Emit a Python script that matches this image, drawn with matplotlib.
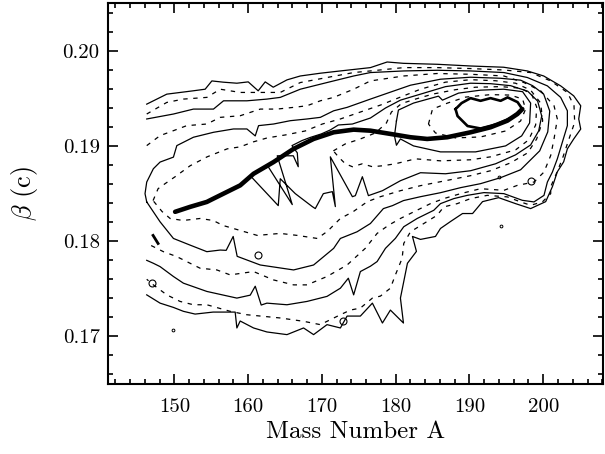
import numpy as np
import matplotlib
matplotlib.use("Agg")
import matplotlib.pyplot as plt
from matplotlib.ticker import MultipleLocator, FormatStrFormatter

plt.rcParams['font.family'] = 'serif'
plt.rcParams['font.serif'] = ['cmr10', 'DejaVu Serif']
plt.rcParams['mathtext.fontset'] = 'cm'
plt.rcParams['axes.formatter.use_mathtext'] = True

# contour lines (mass number A, velocity beta), outer -> inner
# c1..c4 stop at the left data edge, c5..c11 are closed
c1_A = [146.25, 148.97, 152.54, 154.17, 155.08, 156.61, 158.47, 160.01, 161.36, 162.31,
        163.40, 165.26, 167.07, 169.78, 172.50, 176.57, 178.84, 181.05, 185.62, 190.15,
        194.63, 197.84, 200.06, 202.36, 204.13, 205.08, 204.81, 205.08, 204.13, 203.27,
        202.77, 201.91, 201.24, 200.33, 198.29, 196.25, 193.95, 191.77, 190.42, 189.06,
        187.43, 186.07, 185.39, 183.36, 182.27, 182.81, 181.59, 180.64, 181.05, 179.28,
        178.20, 176.84, 175.21, 173.41, 172.50, 170.69, 168.87, 167.51, 165.26, 162.54,
        160.73, 158.92, 158.47, 158.24, 155.25, 152.81, 151.22, 149.87, 148.06, 146.25]
c1_b = [0.19442, 0.19547, 0.19582, 0.19599, 0.19686, 0.19673, 0.19662, 0.19676, 0.19582, 0.19676,
        0.19620, 0.19697, 0.19738, 0.19767, 0.19791, 0.19826, 0.19885, 0.19871, 0.19861, 0.19843,
        0.19830, 0.19791, 0.19738, 0.19634, 0.19529, 0.19425, 0.19286, 0.19180, 0.19076, 0.18972,
        0.18836, 0.18731, 0.18574, 0.18417, 0.18344, 0.18396, 0.18459, 0.18417, 0.18292, 0.18292,
        0.18208, 0.18135, 0.18051, 0.18020, 0.18051, 0.17894, 0.17769, 0.17403, 0.17141, 0.17277,
        0.17141, 0.17350, 0.17214, 0.17214, 0.17089, 0.17124, 0.17019, 0.17089, 0.17019, 0.17047,
        0.17089, 0.17162, 0.17089, 0.17256, 0.17256, 0.17235, 0.17264, 0.17305, 0.17350, 0.17437]

c2_A = [146.25, 148.97, 151.22, 154.40, 156.21, 158.92, 161.64, 164.35, 167.07, 170.69,
        174.30, 176.57, 181.09, 185.62, 190.15, 194.67, 198.29, 201.01, 203.27, 204.17,
        204.26, 203.49, 202.59, 201.68, 201.01, 201.01, 199.88, 198.29, 196.93, 195.13,
        192.41, 190.15, 188.34, 186.52, 185.62, 183.81, 182.00, 181.09, 180.87, 179.96,
        179.28, 177.93, 176.84, 175.21, 173.85, 172.50, 169.78, 167.51, 164.35, 159.83,
        157.56, 154.40, 152.58, 150.77, 148.97, 147.15, 146.25]
c2_b = [0.19338, 0.19460, 0.19495, 0.19513, 0.19599, 0.19565, 0.19565, 0.19565, 0.19669, 0.19722,
        0.19774, 0.19791, 0.19826, 0.19826, 0.19816, 0.19801, 0.19774, 0.19686, 0.19565, 0.19425,
        0.19251, 0.19076, 0.18867, 0.18693, 0.18574, 0.18501, 0.18414, 0.18379, 0.18414, 0.18467,
        0.18483, 0.18449, 0.18396, 0.18362, 0.18274, 0.18187, 0.18100, 0.17978, 0.17821, 0.17647,
        0.17507, 0.17424, 0.17403, 0.17298, 0.17277, 0.17228, 0.17124, 0.17159, 0.17194, 0.17228,
        0.17264, 0.17333, 0.17333, 0.17368, 0.17437, 0.17542, 0.17601]

c3_A = [146.25, 149.87, 152.58, 155.30, 156.66, 159.83, 162.54, 164.35, 167.07, 170.69,
        174.30, 176.57, 181.09, 185.62, 190.15, 194.67, 197.84, 200.56, 202.36, 203.27,
        203.27, 202.59, 201.91, 201.24, 200.56, 200.10, 198.74, 197.16, 194.67, 191.96,
        189.70, 187.88, 186.07, 185.16, 182.91, 181.09, 179.96, 178.61, 177.48, 176.57,
        175.21, 174.30, 173.58, 172.50, 170.69, 167.98, 165.26, 162.54, 161.77, 160.96,
        160.28, 158.47, 154.40, 151.22, 149.87, 148.06, 147.15, 146.25]
c3_b = [0.19286, 0.19338, 0.19390, 0.19390, 0.19477, 0.19477, 0.19495, 0.19513, 0.19599, 0.19669,
        0.19738, 0.19774, 0.19791, 0.19798, 0.19791, 0.19774, 0.19722, 0.19634, 0.19513, 0.19372,
        0.19216, 0.19042, 0.18867, 0.18728, 0.18623, 0.18483, 0.18414, 0.18431, 0.18501, 0.18512,
        0.18483, 0.18449, 0.18396, 0.18326, 0.18240, 0.18153, 0.18031, 0.17926, 0.17787, 0.17738,
        0.17682, 0.17437, 0.17612, 0.17507, 0.17421, 0.17368, 0.17333, 0.17350, 0.17330, 0.17528,
        0.17434, 0.17403, 0.17473, 0.17560, 0.17630, 0.17734, 0.17769, 0.17800]

c4_A = [146.25, 148.06, 149.87, 151.68, 154.40, 156.21, 158.92, 161.64, 163.90, 166.16,
        167.98, 169.78, 171.59, 174.30, 176.57, 181.09, 185.62, 190.15, 194.67, 197.38,
        199.65, 201.46, 201.91, 201.46, 201.01, 200.10, 198.74, 196.49, 194.67, 191.50,
        188.79, 186.52, 184.71, 182.45, 180.64, 179.05, 177.48, 175.89, 173.41, 170.69,
        167.98, 166.16, 163.44, 160.73, 157.56, 155.76, 153.49, 152.13, 150.33, 148.51,
        147.15, 146.25]
c4_b = [0.19006, 0.19111, 0.19163, 0.19216, 0.19233, 0.19303, 0.19320, 0.19390, 0.19390, 0.19408,
        0.19425, 0.19477, 0.19513, 0.19599, 0.19686, 0.19738, 0.19764, 0.19756, 0.19738, 0.19669,
        0.19582, 0.19425, 0.19286, 0.19076, 0.18902, 0.18728, 0.18623, 0.18588, 0.18536, 0.18553,
        0.18501, 0.18449, 0.18396, 0.18310, 0.18240, 0.18170, 0.18083, 0.17927, 0.17751, 0.17630,
        0.17542, 0.17542, 0.17594, 0.17682, 0.17647, 0.17699, 0.17717, 0.17769, 0.17839, 0.17891,
        0.17944, 0.17978]

c5_A = [146.25, 148.06, 149.87, 152.13, 154.40, 156.21, 157.02, 157.97, 158.51, 161.64,
        166.16, 168.87, 171.59, 172.50, 174.76, 176.57, 178.33, 179.56, 181.05, 183.36,
        186.07, 188.79, 191.50, 194.22, 196.93, 198.02, 199.52, 200.61, 200.88, 200.06,
        198.56, 196.93, 194.22, 190.15, 186.07, 182.00, 179.28, 176.57, 173.41, 171.59,
        169.78, 167.98, 165.71, 163.44, 161.41, 160.96, 159.83, 158.01, 155.30, 152.58,
        150.33, 149.87, 148.06, 147.15, 146.25, 146.02]
c5_b = [0.18414, 0.18205, 0.18030, 0.17960, 0.17891, 0.17908, 0.17905, 0.18051, 0.17842, 0.17751,
        0.17699, 0.17751, 0.17926, 0.18030, 0.18100, 0.18187, 0.18344, 0.18375, 0.18428, 0.18469,
        0.18511, 0.18564, 0.18606, 0.18669, 0.18752, 0.18836, 0.18951, 0.19150, 0.19369, 0.19547,
        0.19636, 0.19694, 0.19714, 0.19725, 0.19704, 0.19641, 0.19568, 0.19495, 0.19408, 0.19372,
        0.19303, 0.19286, 0.19268, 0.19233, 0.19216, 0.19108, 0.19181, 0.19181, 0.19146, 0.19094,
        0.19006, 0.18885, 0.18833, 0.18763, 0.18623, 0.18501]

c6_A = [147.11, 147.79, 148.74, 150.10, 152.13, 154.44, 157.16, 158.92, 160.69, 162.59,
        165.03, 167.74, 170.05, 172.50, 175.21, 177.93, 180.64, 183.36, 186.75, 190.15,
        193.54, 196.25, 198.29, 199.65, 199.92, 199.11, 197.89, 195.58, 192.86, 190.15,
        186.75, 183.36, 180.64, 177.93, 176.16, 174.26, 172.50, 170.73, 169.37, 166.66,
        164.35, 161.23, 158.92, 156.61, 155.25, 153.49, 151.18, 149.42, 148.33]
c6_b = [0.18428, 0.18553, 0.18606, 0.18679, 0.18794, 0.18888, 0.18972, 0.18993, 0.19045, 0.19087,
        0.19118, 0.19160, 0.19233, 0.19286, 0.19359, 0.19432, 0.19516, 0.19599, 0.19673, 0.19699,
        0.19688, 0.19662, 0.19589, 0.19453, 0.19265, 0.19076, 0.18930, 0.18825, 0.18742, 0.18690,
        0.18637, 0.18585, 0.18532, 0.18469, 0.18417, 0.18313, 0.18240, 0.18104, 0.18030, 0.18062,
        0.18083, 0.18062, 0.18114, 0.18166, 0.18219, 0.18240, 0.18219, 0.18240, 0.18313]

# c7 carries the narrow fingers hanging below the mean curve
c7_A = [199.79, 199.24, 197.89, 195.58, 192.86, 190.15, 186.75, 183.36, 180.64, 178.61,
        176.57, 174.13, 172.23, 171.14, 169.92, 168.42, 167.30, 165.94, 166.66, 166.79,
        166.12, 163.94, 165.98, 162.72, 160.28, 164.08, 164.35, 166.39, 168.69, 169.10,
        170.19, 171.41, 171.82, 171.14, 174.13, 174.53, 175.48, 176.30, 178.20, 180.64,
        183.36, 186.75, 190.15, 193.54, 196.25, 198.29, 199.38]
c7_b = [0.19317, 0.19474, 0.19578, 0.19636, 0.19657, 0.19662, 0.19626, 0.19547, 0.19484, 0.19401,
        0.19296, 0.19233, 0.19223, 0.19171, 0.19129, 0.19092, 0.19059, 0.19006, 0.18930, 0.18784,
        0.18899, 0.18899, 0.18386, 0.18784, 0.18690, 0.18375, 0.18658, 0.18501, 0.18365, 0.18344,
        0.18501, 0.18522, 0.18365, 0.18888, 0.18469, 0.18480, 0.18679, 0.18480, 0.18532, 0.18637,
        0.18721, 0.18710, 0.18742, 0.18815, 0.18909, 0.19013, 0.19160]

c8_A = [171.55, 173.17, 175.21, 177.25, 178.74, 179.42, 180.78, 182.68, 184.99, 188.11,
        190.82, 194.22, 196.93, 198.43, 199.11, 198.97, 198.02, 196.25, 192.86, 190.15,
        186.07, 182.68, 179.96, 178.20, 176.84, 175.48, 174.13, 173.17, 172.23]
c8_b = [0.18951, 0.19024, 0.19076, 0.19139, 0.19244, 0.19359, 0.19448, 0.19495, 0.19547, 0.19594,
        0.19620, 0.19626, 0.19610, 0.19547, 0.19411, 0.19223, 0.19066, 0.18961, 0.18888, 0.18857,
        0.18846, 0.18867, 0.18815, 0.18794, 0.18784, 0.18815, 0.18784, 0.18815, 0.18888]

c9_A = [180.10, 180.37, 182.41, 185.80, 186.34, 188.52, 191.50, 194.63, 197.20, 198.29,
        198.15, 197.07, 194.90, 190.82, 186.07, 182.41, 180.64, 180.10, 179.83]
c9_b = [0.19265, 0.19380, 0.19453, 0.19526, 0.19484, 0.19558, 0.19589, 0.19599, 0.19573, 0.19453,
        0.19244, 0.19108, 0.19003, 0.18940, 0.18940, 0.19003, 0.19076, 0.19010, 0.19108]

c10_A = [184.44, 184.99, 187.02, 189.47, 192.86, 195.58, 197.20, 197.61, 196.93, 194.90,
         191.50, 188.11, 185.39]
c10_b = [0.19233, 0.19390, 0.19453, 0.19516, 0.19542, 0.19537, 0.19495, 0.19390, 0.19265, 0.19160,
         0.19097, 0.19087, 0.19139]

c11_A = [188.11, 188.38, 189.74, 191.50, 193.81, 195.85, 197.16, 196.52, 195.17, 194.22,
         192.86, 191.50, 190.15, 188.93]
c11_b = [0.19390, 0.19317, 0.19212, 0.19186, 0.19233, 0.19306, 0.19390, 0.19463, 0.19513, 0.19477,
         0.19505, 0.19477, 0.19505, 0.19453]

# small islands
island_A = [161.4, 146.93, 172.85, 198.3]
island_b = [0.1786, 0.1756, 0.1716, 0.1863]
speck_A = [149.87, 193.95, 194.22]
speck_b = [0.1707, 0.1868, 0.1816]
streak_A = [147.11, 147.79]
streak_b = [0.18062, 0.17977]

# mean velocity vs mass (thick curve)
mean_A = [150.10, 152.13, 154.40, 155.30, 158.92, 160.73, 163.44, 166.16, 168.87, 171.59,
          174.30, 176.57, 179.28, 182.00, 184.27, 186.98, 190.15, 192.86, 195.13, 196.49, 197.16]
mean_b = [0.18310, 0.18362, 0.18414, 0.18449, 0.18588, 0.18710, 0.18833, 0.18972, 0.19076, 0.19146,
          0.19174, 0.19163, 0.19129, 0.19094, 0.19076, 0.19094, 0.19146, 0.19199, 0.19268, 0.19338, 0.19390]

open_lines = [(c1_A, c1_b), (c2_A, c2_b), (c3_A, c3_b), (c4_A, c4_b)]
closed_lines = [(c5_A, c5_b), (c6_A, c6_b), (c7_A, c7_b), (c8_A, c8_b),
                (c9_A, c9_b), (c10_A, c10_b)]

fig = plt.figure(figsize=(6.05, 4.54), dpi=100)
ax = fig.add_axes([0.1785, 0.1542, 0.8182, 0.8381])

solid = dict(color='black', lw=0.9, ls='-')
dashed = dict(color='black', lw=0.9, ls=(0, (3.5, 4.5)))

for i, (a, b) in enumerate(open_lines):
    ax.plot(a, b, **(solid if i % 2 == 0 else dashed))
for i, (a, b) in enumerate(closed_lines):
    ax.plot(a + a[:1], b + b[:1], **(solid if i % 2 == 0 else dashed))
ax.plot(c11_A + c11_A[:1], c11_b + c11_b[:1], color='black', lw=1.9)

ax.plot(island_A, island_b, 'o', ms=5, mfc='none', mec='black', mew=0.8)
ax.plot(speck_A, speck_b, 'o', ms=2, mfc='none', mec='black', mew=0.7)
ax.plot(streak_A, streak_b, color='black', lw=2)

ax.plot(mean_A, mean_b, color='black', lw=3.3, solid_capstyle='round')

ax.set_xlim(141, 208.1)
ax.set_ylim(0.165, 0.205)
ax.xaxis.set_major_locator(MultipleLocator(10))
ax.xaxis.set_minor_locator(MultipleLocator(2))
ax.yaxis.set_major_locator(MultipleLocator(0.01))
ax.yaxis.set_minor_locator(MultipleLocator(0.002))
ax.xaxis.set_major_formatter(FormatStrFormatter('%d'))
ax.yaxis.set_major_formatter(FormatStrFormatter('%.2f'))

ax.tick_params(which='both', direction='in', top=True, right=True, width=1.2, labelsize=15)
ax.tick_params(which='major', length=7.5)
ax.tick_params(which='minor', length=3.6)
ax.tick_params(axis='x', pad=10)
ax.tick_params(axis='y', pad=6)
for s in ax.spines.values():
    s.set_linewidth(1.5)

ax.set_xlabel('Mass Number A', fontsize=18, labelpad=4)
ax.set_ylabel(r'$\beta$ (c)', fontsize=19, labelpad=16)

fig.savefig('out.png', dpi=100)
